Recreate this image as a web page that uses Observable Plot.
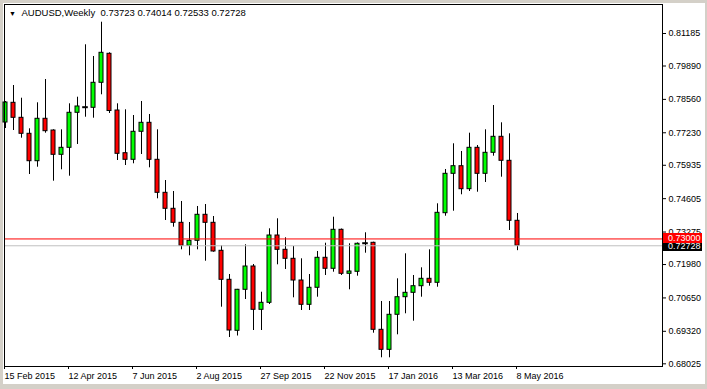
<!DOCTYPE html>
<html><head><meta charset="utf-8">
<script src="https://cdn.jsdelivr.net/npm/d3@7"></script>
<script src="https://cdn.jsdelivr.net/npm/@observablehq/plot@0.6"></script>
<style>
html,body{margin:0;padding:0;background:#fff;}
#chart svg{box-shadow: inset 0 3px 0 #d4d0c8, inset 3px 0 0 #d4d0c8, inset -2px 0 0 #d4d0c8, inset 0 -5px 0 #d4d0c8;}
</style>
</head><body><div id="chart"></div>
<script>
// Weekly AUDUSD candles, week of 15 Feb 2015 .. week of 8 May 2016
const opens  = [0.77639,0.78424,0.77826,0.77189,0.76097,0.77787,0.77320,0.76352,0.76631,0.78026,
                0.78249,0.78225,0.79221,0.80376,0.78117,0.76416,0.76153,0.77269,0.77627,0.76153,
                0.74838,0.74201,0.73643,0.72727,0.72926,0.73962,0.73643,0.72528,0.71372,0.69340,
                0.70974,0.71902,0.70177,0.70456,0.73137,0.72567,0.72209,0.71344,0.70376,0.71054,
                0.72249,0.71811,0.73364,0.71611,0.71691,0.72830,0.72846,0.69380,0.68583,0.69978,
                0.70679,0.70854,0.71117,0.71412,0.71253,0.74026,0.75595,0.75898,0.74982,0.76631,
                0.75595,0.76432,0.77069,0.76113,0.73723];
const highs  = [0.78476,0.79113,0.78607,0.77388,0.78424,0.79352,0.77348,0.77348,0.78384,0.78647,
                0.80735,0.80269,0.81635,0.80416,0.78384,0.78145,0.77918,0.78476,0.77958,0.77348,
                0.75328,0.74890,0.74492,0.73655,0.74293,0.74372,0.73894,0.72727,0.71583,0.70990,
                0.72767,0.71982,0.70878,0.73404,0.73803,0.73046,0.72699,0.72209,0.71583,0.72500,
                0.72830,0.73866,0.73396,0.72807,0.72840,0.73245,0.72870,0.70508,0.70508,0.71412,
                0.72408,0.71544,0.71850,0.72567,0.74400,0.75767,0.76791,0.76484,0.77213,0.76723,
                0.77348,0.78316,0.77627,0.77189,0.74014];
const lows   = [0.77400,0.77320,0.77014,0.75567,0.75858,0.77213,0.75301,0.75755,0.75500,0.76763,
                0.77850,0.77811,0.78743,0.77998,0.76125,0.75926,0.75994,0.76364,0.75834,0.74599,
                0.73735,0.73468,0.72567,0.72328,0.72567,0.72113,0.72472,0.70281,0.69073,0.69133,
                0.70587,0.69352,0.69352,0.70388,0.71970,0.71783,0.70655,0.70149,0.70149,0.70679,
                0.71544,0.71675,0.71544,0.70974,0.71516,0.72432,0.69245,0.68265,0.68265,0.69181,
                0.70018,0.69723,0.70679,0.71117,0.71077,0.73906,0.74105,0.74759,0.74890,0.74862,
                0.75249,0.76297,0.75460,0.73336,0.72533];
const closes = [0.78436,0.77826,0.77189,0.76097,0.77787,0.77293,0.76352,0.76631,0.78026,0.78277,
                0.78249,0.79221,0.80416,0.78097,0.76392,0.76153,0.77269,0.77627,0.76153,0.74838,
                0.74201,0.73643,0.72727,0.72926,0.73962,0.73643,0.72500,0.71372,0.69352,0.70974,
                0.71902,0.70177,0.70456,0.73137,0.72567,0.72209,0.71344,0.70376,0.71054,0.72249,
                0.71811,0.73364,0.71611,0.71703,0.72807,0.72830,0.69380,0.68583,0.69978,0.70679,
                0.70854,0.71117,0.71412,0.71253,0.74041,0.75595,0.75898,0.74982,0.76631,0.75595,
                0.76432,0.77069,0.76113,0.73723,0.72728];

const weekTickIndex = [0, 8, 16, 24, 32, 40, 48, 56, 64];
const weekLabels = ["15 Feb 2015","12 Apr 2015","7 Jun 2015","2 Aug 2015","27 Sep 2015",
                    "22 Nov 2015","17 Jan 2016","13 Mar 2016","8 May 2016"];
const priceTicks = [0.81185,0.79890,0.78560,0.77230,0.75935,0.74605,0.73275,0.71980,0.70650,0.69320,0.68025];
const alertLevel = 0.73000;
const bidLevel = 0.72728;
const headerText = "AUDUSD,Weekly\u00a0\u00a00.73723 0.74014 0.72533 0.72728";

const data = opens.map((o, i) => ({i, o, h: highs[i], l: lows[i], c: closes[i]}));
const bodies = data.filter(d => d.o !== d.c);
const dojis = data.filter(d => d.o === d.c);
const FONT = "'Liberation Sans', Arial, sans-serif";

function priceBox(value, fill, shift) {
  return (index, scales, values, dims) => {
    const y = Math.round(scales.y(value)) + shift;
    const x0 = dims.width - dims.marginRight + 1;
    const g = d3.create("svg:g");
    g.append("rect").attr("x", x0).attr("y", y - 5).attr("width", 39).attr("height", 10).attr("fill", fill);
    g.append("text").attr("x", x0 + 5).attr("y", y).attr("dy", "0.34em")
      .attr("text-anchor", "start")
      .attr("fill", "#fff").attr("font-size", 9).attr("font-family", FONT).text(value.toFixed(5));
    return g.node();
  };
}

const plot = Plot.plot({
  width: 707, height: 389,
  marginLeft: 4, marginRight: 45, marginTop: 4, marginBottom: 23,
  style: {fontFamily: FONT, fontSize: "9px", color: "#000", background: "#fff"},
  x: {domain: [-0.125, 82.125]},
  y: {domain: [0.679181, 0.823404]},
  marks: [
    Plot.ruleX(data, {x: "i", y1: "l", y2: "h", stroke: "#000", strokeWidth: 1}),
    Plot.rect(bodies, {x1: d => d.i - 0.25, x2: d => d.i + 0.25, y1: "o", y2: "c",
      fill: d => d.c > d.o ? "#00ff00" : "#ff0000", stroke: "#000", strokeWidth: 1}),
    Plot.ruleY(dojis, {y: "o", x1: d => d.i - 0.35, x2: d => d.i + 0.35, stroke: "#000", strokeWidth: 2}),
    Plot.ruleY([bidLevel], {stroke: "#c0c0c0"}),
    Plot.ruleY([alertLevel], {stroke: "#ff0000"}),
    Plot.axisX({ticks: weekTickIndex, tickFormat: d => weekLabels[weekTickIndex.indexOf(d)],
      tickSize: 3, tickPadding: 3, textAnchor: "start", dx: -1, label: null}),
    Plot.axisY({anchor: "right", ticks: priceTicks, tickFormat: d => d.toFixed(5), tickSize: 3, tickPadding: 3, label: null}),
    Plot.frame({stroke: "#000"}),
    Plot.text([headerText], {frameAnchor: "top-left", dx: 17, dy: 5, lineAnchor: "top", textAnchor: "start", fill: "#000", fontSize: 9.5}),
    Plot.text(["\u25BC"], {frameAnchor: "top-left", dx: 8, dy: 9, lineAnchor: "middle", textAnchor: "middle", fontSize: 7, fill: "#000"}),
    priceBox(bidLevel, "#000", 1),
    priceBox(alertLevel, "#ff0000", 0)
  ]
});
document.getElementById("chart").append(plot);
</script>
</body></html>
